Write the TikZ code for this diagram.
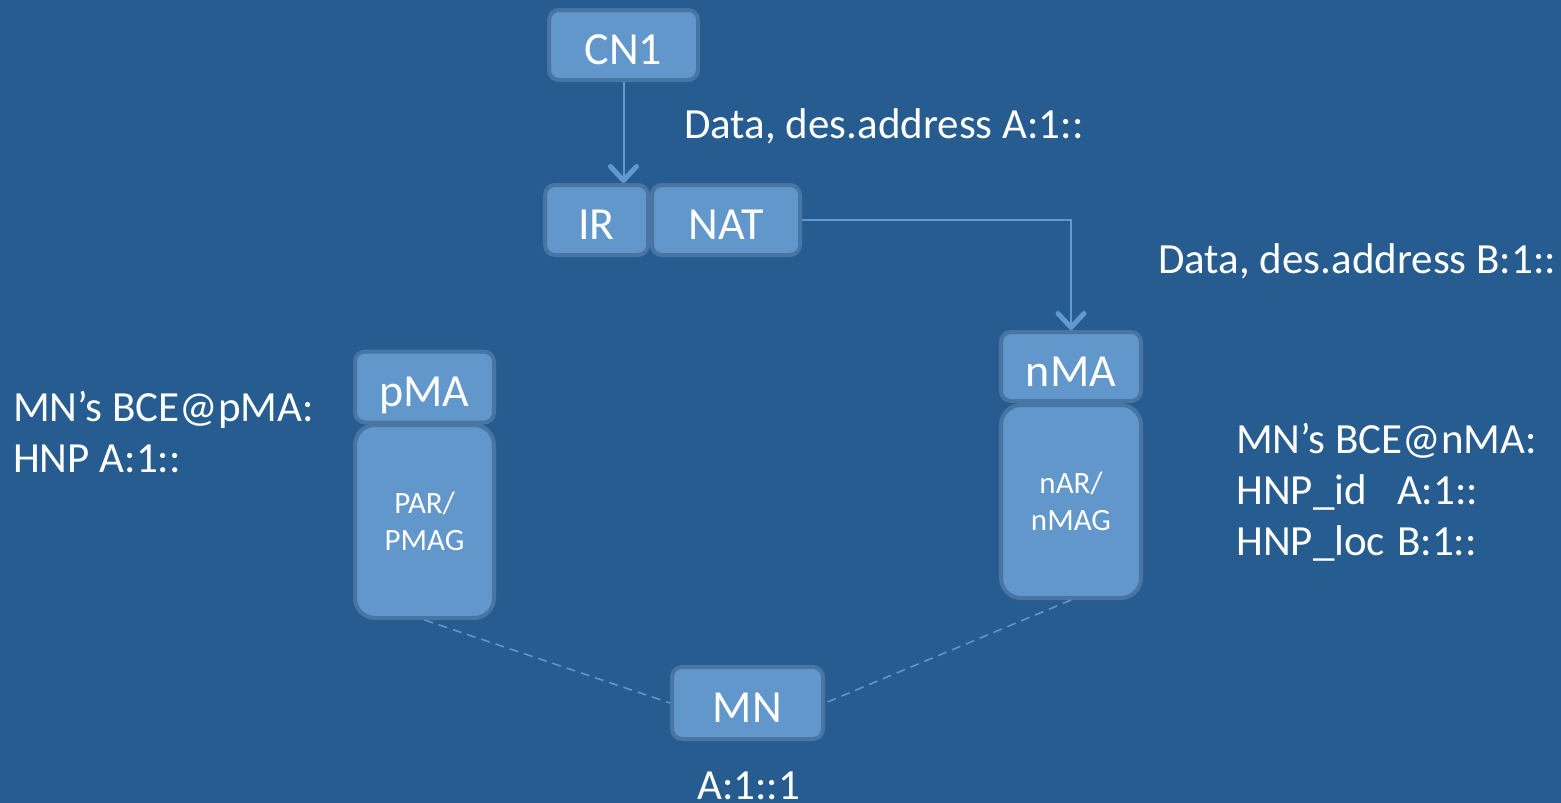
\documentclass[tikz,border=0pt]{standalone}
\usepackage{fontspec}
\setmainfont{Carlito}
\usetikzlibrary{arrows.meta}
\definecolor{bgblue}{RGB}{38,92,143}
\definecolor{boxfill}{RGB}{98,151,203}
\definecolor{boxline}{RGB}{72,117,163}
\definecolor{linkblue}{RGB}{96,152,210}
\tikzset{
  box/.style={draw=boxline,fill=boxfill,line width=4pt,rounded corners=10pt,text=white,font=\fontsize{46}{52}\selectfont,inner sep=0pt,text height=39pt,text depth=0pt},
  tallbox/.style={box,rounded corners=20pt,font=\fontsize{31}{37}\selectfont,align=center,text height=,text depth=},
  lbl/.style={text=white,font=\fontsize{43}{51}\selectfont,inner sep=0pt,anchor=base west,align=left},
  link/.style={draw=linkblue,line width=2pt,-{Straight Barb[length=14pt,width=26pt,line width=5pt,round]}},
  dashlink/.style={draw=linkblue,line width=1.5pt,dash pattern=on 9pt off 6pt}
}
\begin{document}
\begin{tikzpicture}[x=1pt,y=-1pt]
\fill[bgblue] (0,0) rectangle (1561,803);
\useasboundingbox (0,0) rectangle (1561,803);

\node[box,minimum width=149pt,minimum height=70pt] (cn1) at (623.5,45) {CN1};
\node[box,minimum width=103pt,minimum height=70pt] (ir) at (596.5,220) {IR};
\node[box,minimum width=148pt,minimum height=70pt] (nat) at (726,220) {NAT};
\node[box,minimum width=139pt,minimum height=71pt] (pma) at (424.5,387) {pMA};
\node[tallbox,minimum width=139pt,minimum height=193pt] (par) at (424.5,521.5) {PAR/\\PMAG};
\node[box,minimum width=140pt,minimum height=69pt] (nma) at (1071,366.5) {nMA};
\node[tallbox,minimum width=140pt,minimum height=193pt] (nar) at (1071,501.5) {nAR/\\nMAG};
\node[box,minimum width=151pt,minimum height=72pt] (mn) at (747.5,703) {MN};

\draw[link] (cn1.south) -- (cn1.south |- ir.north);
\draw[link] (nat.east) -| (nma.north);
\draw[dashlink] (par.south) -- (mn.west);
\draw[dashlink] (nar.south) -- (mn.east);

\node[lbl] (dataA) at (684,138) {Data, des.address A:1::};
\node[lbl] (dataB) at (1158,273) {Data, des.address B:1::};
\node[lbl] (bcep) at (13,472) {MN’s BCE@pMA:\\HNP A:1::};
\node[lbl] (bcen) at (1236,555) {\begin{tabular}[b]{@{}l@{\hspace{12pt}}l@{}}
  \multicolumn{2}{@{}l@{}}{MN’s BCE@nMA:}\\
  HNP\_id & A:1::\\
  HNP\_loc & B:1::
\end{tabular}};
\node[lbl] (addr) at (697,799) {A:1::1};
\end{tikzpicture}
\end{document}
